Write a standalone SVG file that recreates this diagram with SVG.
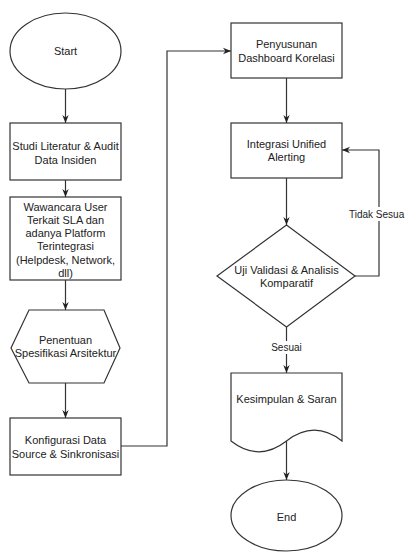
<svg xmlns="http://www.w3.org/2000/svg" width="406" height="553" viewBox="0 0 406 553">
<defs>
<style>
.shape{fill:#ffffff;stroke:#333333;stroke-width:1.2}
.t{font-family:"Liberation Sans",Arial,Helvetica,sans-serif;font-size:11px;fill:#222222;text-anchor:middle}
.lbl{font-family:"Liberation Sans",Arial,Helvetica,sans-serif;font-size:10px;fill:#222222}
.edge{fill:none;stroke:#333333;stroke-width:1.2}
.bg{fill:#ffffff;stroke:none}
</style>
<marker id="arr" viewBox="0 0 10 10" refX="10" refY="5" markerWidth="8" markerHeight="8" markerUnits="userSpaceOnUse" orient="auto">
<path d="M0,1 L10,5 L0,9 L3,5 z" fill="#222222"/>
</marker>
</defs>
<rect width="406" height="553" fill="#ffffff"/>

<g id="connectors">
<path class="edge" d="M65.5,89 V123" marker-end="url(#arr)"/>
<path class="edge" d="M65.5,180 V197" marker-end="url(#arr)"/>
<path class="edge" d="M65.5,268 V310" marker-end="url(#arr)"/>
<path class="edge" d="M65.5,383 V418" marker-end="url(#arr)"/>
<path class="edge" d="M121,446 H167 V51 H231" marker-end="url(#arr)"/>
<path class="edge" d="M286.5,78 V123" marker-end="url(#arr)"/>
<path class="edge" d="M286.5,178 V225" marker-end="url(#arr)"/>
<path class="edge" d="M286.5,327 V373" marker-end="url(#arr)"/>
<path class="edge" d="M355,276 H379 V150 H342" marker-end="url(#arr)"/>
<path class="edge" d="M286.5,441 V480" marker-end="url(#arr)"/>
<rect class="bg" x="266" y="341" width="41" height="13"/>
<text class="lbl" x="286.5" y="351" text-anchor="middle">Sesuai</text>
<rect class="bg" x="347" y="207" width="59" height="14"/>
<text class="lbl" x="349" y="217.5">Tidak Sesua</text>
</g>

<g id="start">
<ellipse class="shape" cx="65.5" cy="51" rx="55.5" ry="38"/>
<text class="t" x="65.5" y="55">Start</text>
</g>

<g id="studi">
<rect class="shape" x="10" y="123" width="111" height="57"/>
<text class="t" x="65.5" y="150">Studi Literatur &amp; Audit</text>
<text class="t" x="65.5" y="164">Data Insiden</text>
</g>

<g id="wawancara">
<rect class="shape" x="10" y="197" width="111" height="83"/>
<text class="t" x="65.5" y="210.5">Wawancara User</text>
<text class="t" x="65.5" y="223.8">Terkait SLA dan</text>
<text class="t" x="65.5" y="237.1">adanya Platform</text>
<text class="t" x="65.5" y="250.4">Terintegrasi</text>
<text class="t" x="65.5" y="263.7">(Helpdesk, Network,</text>
<text class="t" x="65.5" y="277">dll)</text>
</g>

<g id="penentuan">
<polygon class="shape" points="29,310 104,310 120,348 104,383 29,383 11,348"/>
<text class="t" x="65.5" y="343.5">Penentuan</text>
<text class="t" x="65.5" y="357">Spesifikasi Arsitektur</text>
</g>

<g id="konfigurasi">
<rect class="shape" x="10" y="418" width="111" height="57"/>
<text class="t" x="65.5" y="444">Konfigurasi Data</text>
<text class="t" x="65.5" y="457.5">Source &amp; Sinkronisasi</text>
</g>

<g id="penyusunan">
<rect class="shape" x="231" y="23" width="111" height="55"/>
<text class="t" x="286.5" y="47.5">Penyusunan</text>
<text class="t" x="286.5" y="61.5">Dashboard Korelasi</text>
</g>

<g id="integrasi">
<rect class="shape" x="231" y="123" width="111" height="55"/>
<text class="t" x="286.5" y="147.5">Integrasi Unified</text>
<text class="t" x="286.5" y="161">Alerting</text>
</g>

<g id="uji">
<polygon class="shape" points="286.5,225 355,276 286.5,327 217,276"/>
<text class="t" x="286.5" y="273.5">Uji Validasi &amp; Analisis</text>
<text class="t" x="286.5" y="286.8">Komparatif</text>
</g>

<g id="kesimpulan">
<path class="shape" d="M231,373 H342 V441 Q314.25,419.4 286.5,441 Q258.75,462.6 231,441 Z"/>
<text class="t" x="286.5" y="403">Kesimpulan &amp; Saran</text>
</g>

<g id="end">
<ellipse class="shape" cx="286.5" cy="515.5" rx="55.5" ry="35.5"/>
<text class="t" x="286.5" y="521">End</text>
</g>
</svg>
